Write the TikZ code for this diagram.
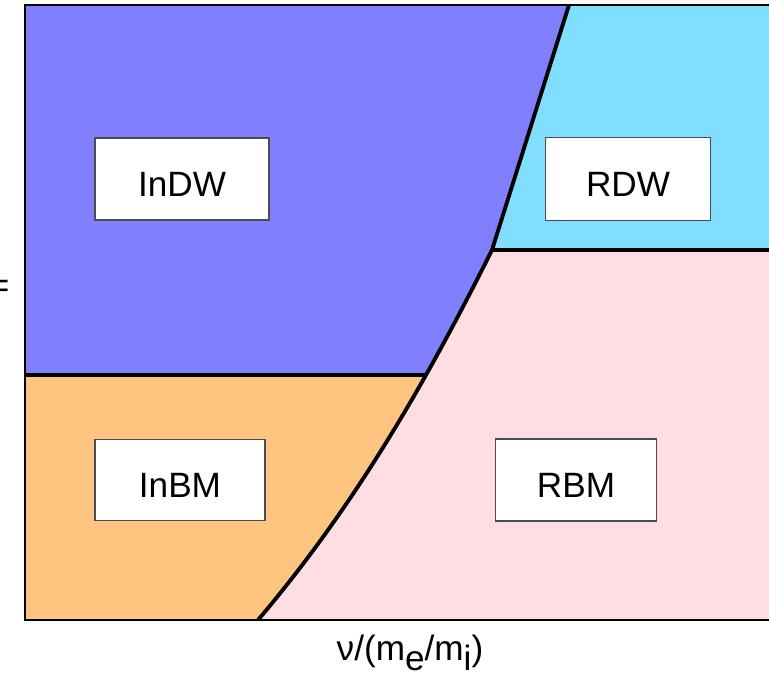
\documentclass[tikz,border=0pt]{standalone}
\usepackage{fontspec}
\setmainfont{Liberation Sans}
\usetikzlibrary{positioning}
\definecolor{indwblue}{RGB}{128,128,255}
\definecolor{rdwcyan}{RGB}{128,222,255}
\definecolor{inbmorange}{RGB}{255,196,128}
\definecolor{rbmpink}{RGB}{255,221,227}
\tikzset{phasecurve/.style={insert path={-- (topend) -- (highjoin) .. controls (432,370) and (360,500) .. (bottomend)}}}

\begin{document}
\begin{tikzpicture}[x=0.01cm, y=-0.01cm,
    regionbox/.style={draw=black!70, line width=0.4pt, fill=white, inner sep=0pt,
        text height=10pt, text depth=0pt, font=\fontsize{10}{12}\selectfont},
    boundary/.style={line width=1.1pt, line join=round}]
    \useasboundingbox (0,0) rectangle (769,676);
    \coordinate (topend) at (569,5);
    \coordinate (highjoin) at (492,250);
    \coordinate (lowjoin) at (426,375);
    \coordinate (bottomend) at (258,620);

    % Fill the left and right phase regions
    \fill[rbmpink] (25,5) rectangle (769,620);
    \fill[indwblue] (25,5) [phasecurve] -- (25,620) -- cycle;
    \begin{scope}
        \clip (25,5) [phasecurve] -- (25,620) -- cycle;
        \fill[inbmorange] (25,375) rectangle (769,620);
    \end{scope}
    \begin{scope}
        \clip (769,5) [phasecurve] -- (769,620) -- cycle;
        \fill[rdwcyan] (25,5) rectangle (769,250);
    \end{scope}

    % Frame of the plot
    \draw[line width=0.5pt] (769,5) -- (25,5) -- (25,620) -- (769,620);

    % Phase boundaries
    \draw[boundary] (topend) [phasecurve];
    \draw[boundary] (25,375) -- (lowjoin);
    \draw[boundary] (highjoin) -- (769,250);

    % Label boxes of the four regimes
    \foreach \n/\x/\y/\w/\h in {InDW/182/179/174/82, RDW/628/179/165/83, InBM/180/480/170/81, RBM/576/480/161/82} {
        \node[regionbox, minimum width=\w*0.01cm, minimum height=\h*0.01cm] (\n) at (\x,\y) {\n};
    }

    % Axis labels
    \node[anchor=base, inner sep=0pt, font=\fontsize{10}{12}\selectfont] (xlabel) at (410,661)
        {ν/(m\raisebox{-0.28em}{e}/m\raisebox{-0.28em}{i})};
    \node[anchor=east, inner sep=0pt, font=\fontsize{10}{12}\selectfont] (ylabel) at (10,289) {=};
\end{tikzpicture}
\end{document}
